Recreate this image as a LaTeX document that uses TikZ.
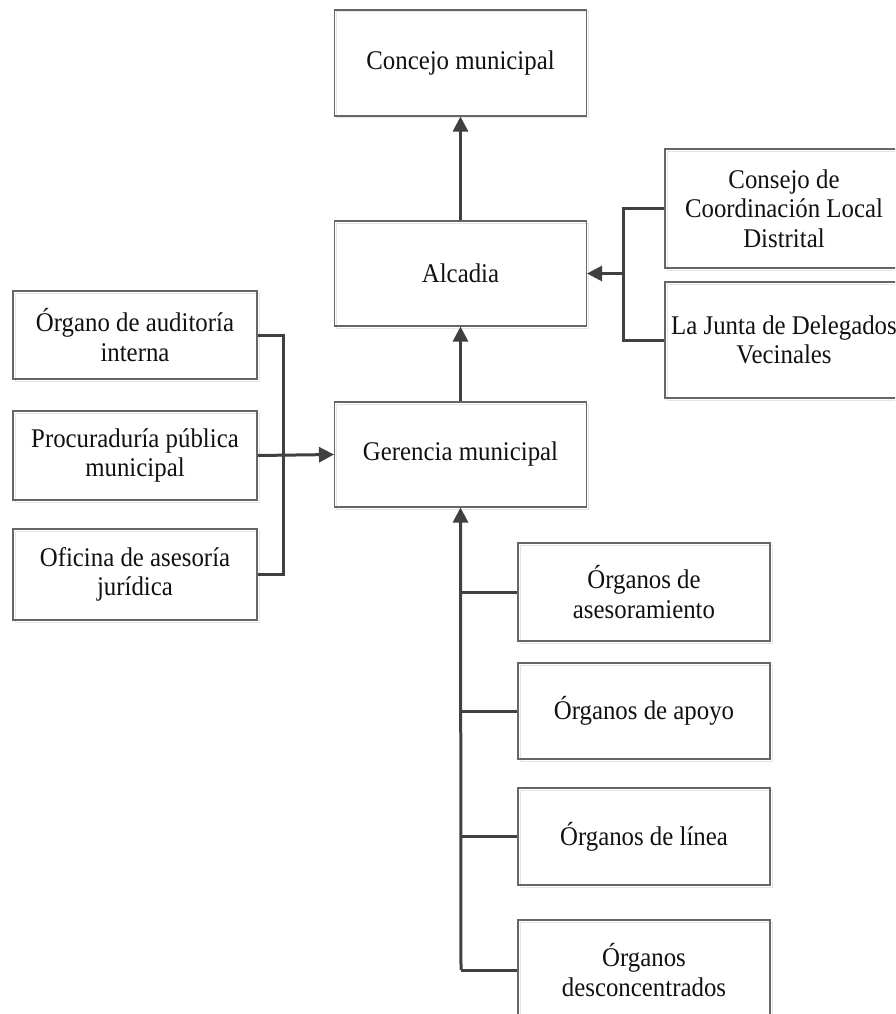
\documentclass[tikz,border=0pt]{standalone}
\usepackage{fontspec}
\setmainfont{Liberation Serif}[FakeStretch=0.92]
\usetikzlibrary{arrows.meta,shadows}
\definecolor{linecol}{HTML}{404040}
\definecolor{boxcol}{HTML}{666666}
\definecolor{txtcol}{HTML}{111111}
\tikzset{
  orgbox/.style={draw=boxcol, line width=1.1pt, fill=none, rectangle, inner sep=0pt, align=center,
    text=txtcol, font=\fontsize{27}{29.5}\selectfont,
    general shadow={draw=black!10, fill=none, line width=1pt, shadow xshift=2pt, shadow yshift=-2pt}},
  conn/.style={draw=linecol, line width=3pt},
  arr/.style={conn, -{Triangle[length=15pt,width=15pt]}}
}
\begin{document}
\begin{tikzpicture}[x=1pt,y=-1pt]
\clip (0,0) rectangle (895,1014);
\fill[white] (0,0) rectangle (895,1014);
% central column
\node[orgbox, minimum width=252pt, minimum height=106pt] (concejo) at (460.5,63) {Concejo municipal};
\node[orgbox, minimum width=252pt, minimum height=105pt] (alcadia) at (460.5,273.5) {Alcadia};
\node[orgbox, minimum width=252pt, minimum height=105pt] (gerencia) at (460.5,454.5) {Gerencia municipal};
% right side
\node[orgbox, minimum width=238pt, minimum height=119pt] (consejo) at (784,208.5) {Consejo de\\Coordinación Local\\Distrital};
\node[orgbox, minimum width=238pt, minimum height=116pt] (junta) at (784,340) {La Junta de Delegados\\Vecinales};
% left side
\node[orgbox, minimum width=244pt, minimum height=88pt] (auditoria) at (135,335) {Órgano de auditoría\\interna};
\node[orgbox, minimum width=244pt, minimum height=89pt] (procuraduria) at (135,455.5) {Procuraduría pública\\municipal};
\node[orgbox, minimum width=244pt, minimum height=91pt] (oficina) at (135,574.5) {Oficina de asesoría\\jurídica};
% bottom
\node[orgbox, minimum width=252pt, minimum height=98pt] (asesoramiento) at (644,592) {Órganos de\\asesoramiento};
\node[orgbox, minimum width=252pt, minimum height=96pt] (apoyo) at (644,711) {Órganos de apoyo};
\node[orgbox, minimum width=252pt, minimum height=97pt] (linea) at (644,836.5) {Órganos de línea};
\node[orgbox, minimum width=252pt, minimum height=100pt] (descon) at (644,970) {Órganos\\desconcentrados};

% vertical arrows
\draw[arr] (alcadia.north) -- (concejo.south);
\draw[arr] (gerencia.north) -- (alcadia.south);

% right branch
\coordinate (rj) at (623,273.5);
\draw[conn] (consejo.west) -| (rj) |- (junta.west);
\draw[arr] (rj) -- (alcadia.east);

% left branch
\coordinate (lj) at (283,455);
\draw[conn] (auditoria.east) -| (lj) |- (oficina.east);
\draw[arr] (procuraduria.east) -- (gerencia.west);

% bottom branch
\coordinate (bj) at (461,970);
\draw[conn] (descon.west) -- (bj);
\draw[arr] (bj) -- (gerencia.south);
\draw[conn] (asesoramiento.west) -- (asesoramiento.west -| bj);
\draw[conn] (apoyo.west) -- (apoyo.west -| bj);
\draw[conn] (linea.west) -- (linea.west -| bj);
\end{tikzpicture}
\end{document}
